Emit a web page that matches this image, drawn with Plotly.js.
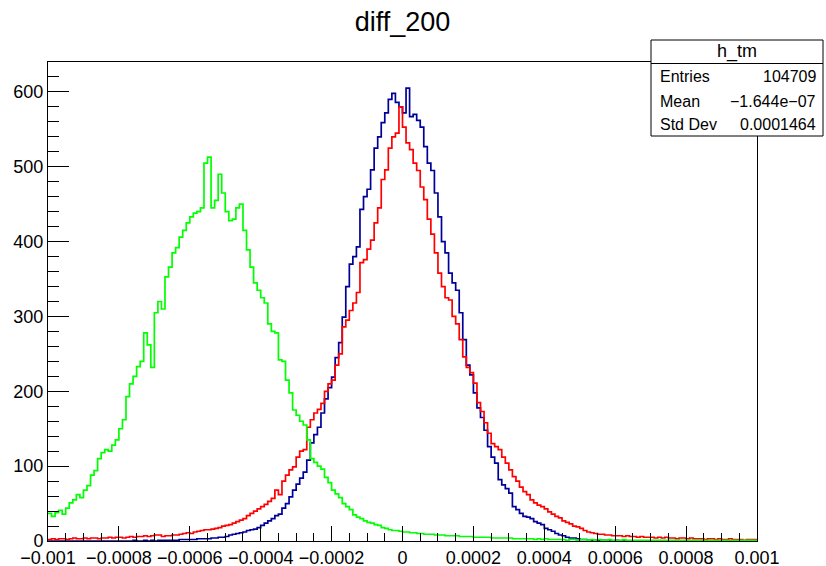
<!DOCTYPE html>
<html>
<head>
<meta charset="utf-8">
<script src="https://cdn.plot.ly/plotly-3.0.1.min.js"></script>
<style>html,body{margin:0;padding:0;background:#fff;}#chart{width:826px;height:566px;}</style>
</head>
<body>
<div id="chart"></div>
<script>
// ---- data (histogram counts, 200 bins from -0.001 to 0.001) ----
const xMin = -0.001;
const xMax = 0.001;
const nBins = 200;

const blueCounts = [
  0,0,0,0,0,0,0,0,0,0, 0,0,0,0,0,0,0,0,0,0, 0,0,0,0,1,0,0,1,0,1,0,1,
  1,1,1,1,1,2,2,2,2,2,3,3,3,3,
  4,4,5,5,6, 8,9,10,11,12, 14,15,16,18, 21,24,27, 30,34,36,
  44,50, 59, 68,76, 84,92, 108, 131, 142,152, 171, 190,205, 219, 245,265,
  299, 340, 370,380, 393, 443, 460,470, 496, 525,540, 559, 572, 590,598, 586,
  580,572, 605, 567, 570,562, 553, 527, 505,495, 465, 433, 400,385, 358,
  345,335, 305, 269, 235,222, 198, 178,165, 148, 126, 112,104, 82, 75,70,
  64, 46, 42, 37, 33,32,30, 26,24,22, 17,15,13, 10,8,7, 5,4,4,3,
  2,2,1,1,1,1,1,
  1,0,0,1,0,0,0,0,0,0, 0,0,0,0,0,0,0,0,0,0, 0,0,0,0,0,0,0,0,0,0, 0,0,0,0,0,0,0,0,0,0, 0,0,0
];

const redCounts = [
  2,3,2,3,3,2,3,4,3,3,4,3,4,4,3,
  4,4,5,4,5,5,4,5,6,5,6,6,7,6,7,8,8,
  6,7,7,8,8,9, 10,11,10,12,13, 14,15,15,16,17,18, 20,21,22,24, 26,28,30,
  34,37,40, 43,46,49, 53,57, 68,62, 80,88, 95, 99, 112,120, 122, 152,
  162,171,176, 184, 200,210, 215, 235,250, 286, 295, 308,318, 332, 372,
  376,390, 402, 425,445, 483, 496, 525,540, 545, 580,553, 532, 523, 505,495,
  473, 456, 430,410, 385, 358, 340,325, 322, 300,290, 269, 246, 232,225, 211,
  185,173, 158, 144, 130,126,122, 112,104, 95, 86, 80, 72, 66,62, 55, 51,
  48,46,43, 39,36, 33,31, 27,25,23, 20,19,17, 14,12,11, 10,9,9,8,
  8,7,7,7,6,7, 6,6,5,6,5, 5,5,4,5,4,5, 4,4,3,4,4,3,4, 3,3,3,2,3,3,2,3,
  2,2,3,2,2,2,1,2,2,2
];

const greenCounts = [
  37,33,38, 41,36,44, 51, 55,62,58, 68,74, 88,94, 110,118,122,120, 128,135,
  150,162, 193, 210,220, 233,240, 278,262,232, 305,320, 310, 353, 366, 385,392,
  406, 415,425, 433, 438,440, 445,505,513,445, 455,490, 465, 440,428, 430,445,
  450,415, 389, 366, 345,335, 325,318, 290,280, 278, 242,240, 215, 198,
  175,168, 160,155, 135, 110,105, 100,96, 85,78, 68,63,58, 50,46,42, 35,32,30,
  27,25,24,22,21, 18,17,15,14,14,13,
  12,12,11,11,10,10,9,9,9,8,8,8,7,7,7,7,6,6,6,6,5,5,5,5,5,4,4,4,4,4,4,3,3,3,
  3,3,3,2,3,2,3,2,2,2, 2,2,1,2,2,1,2,2,1,2, 1,2,1,1,2,1,1,1,2,1,
  1,1,1,1,1,1,1,1,1,1, 1,1,1,1,1,1,1,1,1,1, 1,1,1,1,1,1,1,1,1,1, 1,1,1,1,1,1
];

const xTickVals = [-0.001,-0.0008,-0.0006,-0.0004,-0.0002,0,0.0002,0.0004,0.0006,0.0008,0.001];
const xTickText = ['\u22120.001','\u22120.0008','\u22120.0006','\u22120.0004','\u22120.0002','0','0.0002','0.0004','0.0006','0.0008','0.001'];
const yTickVals = [0,100,200,300,400,500,600];

const titleText = 'diff_200';
const statsName = 'h_tm';
const statsLabels = ['Entries','Mean','Std Dev'];
const statsValues = ['104709','\u22121.644e\u221207','0.0001464'];

// ---- build step traces ----
function stepTrace(counts, color) {
  const w = (xMax - xMin) / nBins;
  const xs = [], ys = [];
  counts.forEach((c, i) => { xs.push(xMin + i * w); ys.push(c); });
  xs.push(xMin + counts.length * w); ys.push(counts[counts.length - 1]);
  return {x: xs, y: ys, type: 'scatter', mode: 'lines',
          line: {shape: 'hv', color: color, width: 1.7}, hoverinfo: 'skip', showlegend: false};
}

const traces = [
  stepTrace(blueCounts, '#000099'),
  stepTrace(redCounts, '#ff0000'),
  stepTrace(greenCounts, '#00ff00')
];

// layout geometry (pixels)
const W = 826, H = 566;
const L = 48, R = 757, T = 62, B = 541;
const px = v => (v - L) / (R - L);
const py = v => (B - v) / (B - T);

const font = 'Liberation Sans, Arial, Helvetica, sans-serif';

const shapes = [
  {type: 'rect', xref: 'paper', yref: 'paper', x0: px(651), x1: px(823), y0: py(136), y1: py(40),
   fillcolor: '#ffffff', line: {color: '#000', width: 1}, layer: 'above'},
  {type: 'line', xref: 'paper', yref: 'paper', x0: px(651), x1: px(823), y0: py(63.5), y1: py(63.5),
   line: {color: '#000', width: 1}, layer: 'above'}
];

const annotations = [
  {xref: 'paper', yref: 'paper', x: px(737), y: py(52), text: statsName, showarrow: false,
   xanchor: 'center', yanchor: 'middle', font: {family: font, size: 18, color: '#000'}}
];
const rowsY = [77, 101, 125];
statsLabels.forEach((lab, i) => {
  annotations.push({xref: 'paper', yref: 'paper', x: px(658), y: py(rowsY[i]), text: lab, showarrow: false,
    xanchor: 'left', yanchor: 'middle', font: {family: font, size: 16, color: '#000'}});
  annotations.push({xref: 'paper', yref: 'paper', x: px(818), y: py(rowsY[i]), text: statsValues[i], showarrow: false,
    xanchor: 'right', yanchor: 'middle', font: {family: font, size: 16, color: '#000'}});
});

const layout = {
  width: W, height: H,
  margin: {l: L, r: W - R, t: T, b: H - B, pad: 0},
  paper_bgcolor: '#fff', plot_bgcolor: '#fff',
  showlegend: false,
  title: {text: titleText, x: (L + R) / 2 / W, xanchor: 'center', y: 1 - 22 / H, yanchor: 'middle',
          xref: 'container', yref: 'container', font: {family: font, size: 27, color: '#000'}},
  xaxis: {
    range: [xMin, xMax], showgrid: false, zeroline: false,
    showline: true, linecolor: '#000', linewidth: 1, mirror: true,
    tickmode: 'array', tickvals: xTickVals, ticktext: xTickText,
    ticks: 'inside', ticklen: 15, tickwidth: 1, tickcolor: '#000',
    minor: {tickmode: 'linear', tick0: xMin, dtick: 0.00005, ticks: 'inside', ticklen: 8, tickcolor: '#000', tickwidth: 1, showgrid: false},
    tickfont: {family: font, size: 18, color: '#000'}, fixedrange: true
  },
  yaxis: {
    range: [0, 640], showgrid: false, zeroline: false,
    showline: true, linecolor: '#000', linewidth: 1, mirror: true,
    tickmode: 'array', tickvals: yTickVals, ticktext: yTickVals.map(String),
    ticks: 'inside', ticklen: 21, tickwidth: 1, tickcolor: '#000',
    minor: {tickmode: 'linear', tick0: 0, dtick: 20, ticks: 'inside', ticklen: 11, tickcolor: '#000', tickwidth: 1, showgrid: false},
    tickfont: {family: font, size: 18, color: '#000'}, fixedrange: true
  },
  shapes: shapes,
  annotations: annotations
};

Plotly.newPlot('chart', traces, layout, {staticPlot: true, displayModeBar: false});
</script>
</body>
</html>
